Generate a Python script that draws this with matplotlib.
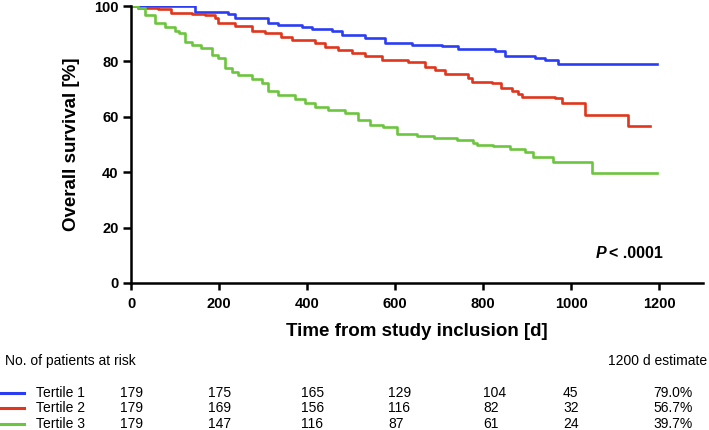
import matplotlib.pyplot as plt
from matplotlib.lines import Line2D

# Kaplan-Meier curves (days, survival %)
t1_days = [0, 145, 221, 236, 312, 335, 388, 411, 456, 479, 532, 577, 638, 706,
           744, 827, 850, 918, 941, 971, 1195]
t1_surv = [100, 97.9, 97.1, 95.6, 94.0, 93.1, 92.3, 91.6, 90.8, 89.5, 88.3, 86.8,
           85.9, 85.6, 84.4, 83.9, 81.9, 81.1, 80.5, 79.0, 79.0]

t2_days = [0, 17, 62, 92, 138, 168, 191, 198, 236, 274, 305, 342, 365, 418, 441,
           471, 502, 532, 570, 630, 668, 691, 714, 767, 774, 820, 842, 865, 880,
           888, 964, 979, 1032, 1129, 1180]
t2_surv = [100, 99.3, 98.8, 97.6, 97.1, 96.8, 95.6, 93.7, 92.6, 90.8, 90.1, 88.9,
           87.7, 86.8, 85.3, 84.1, 83.1, 82.0, 80.5, 79.9, 78.1, 76.9, 75.5, 73.9,
           72.7, 72.1, 70.3, 69.4, 68.2, 67.0, 66.7, 65.1, 60.6, 56.8, 56.8]

t3_days = [0, 17, 32, 54, 77, 100, 108, 123, 138, 160, 183, 198, 214, 229, 244,
           274, 297, 312, 335, 373, 395, 418, 448, 486, 517, 543, 573, 604, 650,
           688, 740, 778, 786, 823, 861, 895, 914, 959, 1047, 1195]
t3_surv = [100, 99.1, 96.8, 93.7, 92.3, 91.1, 90.1, 87.1, 85.9, 84.7, 82.3, 81.1,
           77.5, 76.3, 75.1, 73.6, 72.1, 69.4, 67.9, 66.3, 64.9, 63.7, 62.5, 61.3,
           58.8, 57.0, 56.4, 53.7, 53.1, 52.3, 51.7, 50.7, 49.9, 49.5, 48.3, 47.4,
           45.6, 43.8, 39.8, 39.8]

group_names = ["Tertile 1", "Tertile 2", "Tertile 3"]
at_risk = [
    [179, 175, 165, 129, 104, 45],
    [179, 169, 156, 116, 82, 32],
    [179, 147, 116, 87, 61, 24],
]
estimates = ["79.0%", "56.7%", "39.7%"]
colors = ["#2b3df2", "#e0361d", "#6cc53e"]

W, H = 709, 430
plt.rcParams["font.family"] = ["Liberation Sans", "DejaVu Sans"]

fig = plt.figure(figsize=(W / 100, H / 100), dpi=100)
ax = fig.add_axes([131 / W, 1 - 283 / H, 572 / W, 277 / H])

for days, surv, c in zip([t1_days, t2_days, t3_days],
                         [t1_surv, t2_surv, t3_surv], colors):
    ax.step(days, surv, where="post", color=c, lw=1.9)

ax.set_xlim(0, 1300)
ax.set_ylim(0, 100)
ax.set_xticks(range(0, 1201, 200))
ax.set_yticks(range(0, 101, 20))
for side in ["top", "right"]:
    ax.spines[side].set_visible(False)
for side in ["left", "bottom"]:
    ax.spines[side].set_linewidth(1.8)
ax.tick_params(axis="x", length=5, width=1.8, labelsize=10.5, pad=5)
ax.tick_params(axis="y", length=6, width=1.8, labelsize=10.5, pad=3)
for lab in ax.get_xticklabels() + ax.get_yticklabels():
    lab.set_fontweight("bold")

ax.set_xlabel("Time from study inclusion [d]", fontsize=13.5, fontweight="bold",
              labelpad=9)
ax.set_ylabel("Overall survival [%]", fontsize=13.5, fontweight="bold", labelpad=10)

# P value
fig.text(606 / W, 1 - 253 / H, "P", ha="right", va="center", fontsize=11.5,
         fontweight="bold", style="italic")
fig.text(609 / W, 1 - 253 / H, "< .0001", ha="left", va="center", fontsize=11.5,
         fontweight="bold")

# number at risk table
fs = 10
fig.text(5 / W, 1 - 361 / H, "No. of patients at risk", fontsize=fs, va="center")
fig.text(707 / W, 1 - 361 / H, "1200 d estimate", fontsize=fs, va="center",
         ha="right")
col_x = [120, 208, 301, 388, 483, 563]
row_y = [393, 408, 424]
for i, name in enumerate(group_names):
    yf = 1 - row_y[i] / H
    fig.add_artist(Line2D([0, 24 / W], [yf, yf], color=colors[i], lw=2.2,
                          transform=fig.transFigure))
    fig.text(36 / W, yf, name, fontsize=fs, va="center")
    for x, n in zip(col_x, at_risk[i]):
        fig.text(x / W, yf, str(n), fontsize=fs, va="center")
    fig.text(693 / W, yf, estimates[i], fontsize=fs, va="center", ha="right")

fig.savefig("out.png", dpi=100)
